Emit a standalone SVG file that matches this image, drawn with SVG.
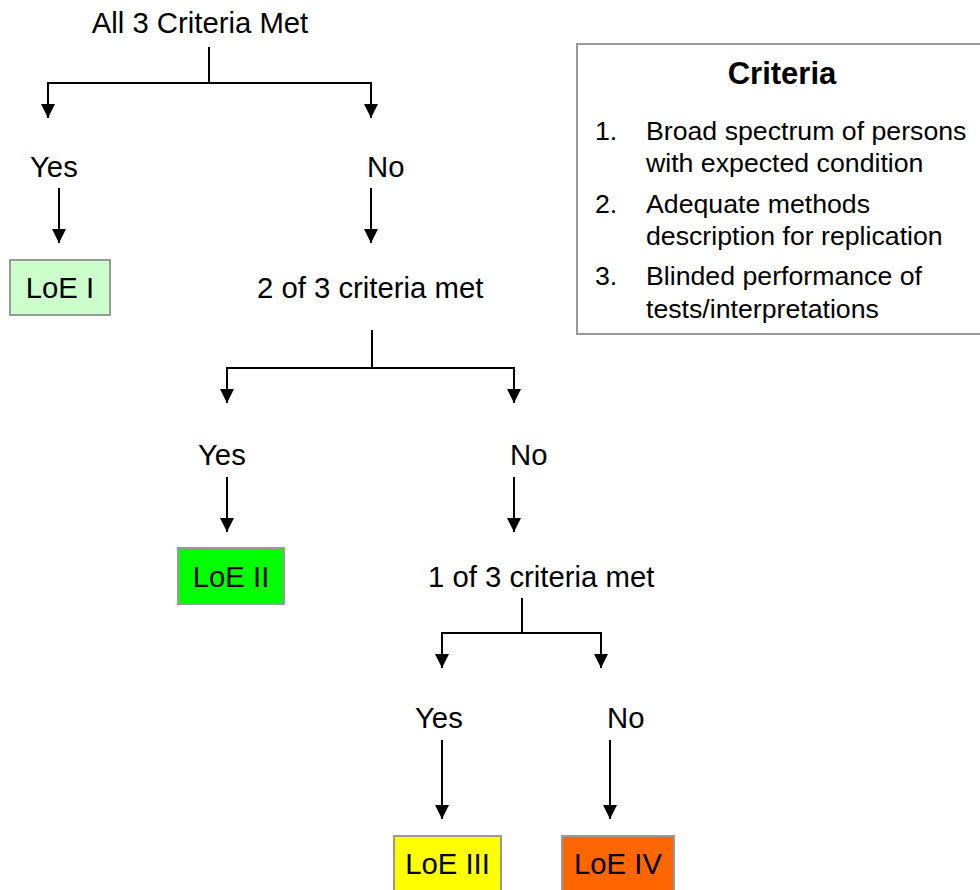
<svg xmlns="http://www.w3.org/2000/svg" width="980" height="890" viewBox="0 0 980 890">
  <style>
    text { font-family: "Liberation Sans", Arial, sans-serif; fill: #000; }
    .lbl { font-size: 29.3px; }
    .leg { font-size: 26.7px; }
    .legh { font-size: 31px; font-weight: bold; }
    .box { stroke: #999999; stroke-width: 2; }
    .wire { fill: none; stroke: #000; stroke-width: 2; }
  </style>
  <defs>
    <marker id="arr" viewBox="0 0 14 14" refX="14" refY="7" markerWidth="14" markerHeight="14" markerUnits="userSpaceOnUse" orient="auto">
      <path d="M0,0 L14,7 L0,14 Z" fill="#000"/>
    </marker>
  </defs>

  <!-- decision labels -->
  <g id="q1"><text class="lbl" x="200" y="33" text-anchor="middle">All 3 Criteria Met</text></g>
  <g id="yes1"><text class="lbl" x="30" y="177">Yes</text></g>
  <g id="no1"><text class="lbl" x="367" y="177">No</text></g>
  <g id="q2"><text class="lbl" x="257" y="298">2 of 3 criteria met</text></g>
  <g id="yes2"><text class="lbl" x="198" y="465">Yes</text></g>
  <g id="no2"><text class="lbl" x="510" y="465">No</text></g>
  <g id="q3"><text class="lbl" x="428" y="587">1 of 3 criteria met</text></g>
  <g id="yes3"><text class="lbl" x="415" y="728">Yes</text></g>
  <g id="no3"><text class="lbl" x="607" y="728">No</text></g>

  <!-- outcome boxes -->
  <g id="loe1">
    <rect class="box" x="10" y="260" width="100" height="55" fill="#ccffcc"/>
    <text class="lbl" x="60" y="298" text-anchor="middle">LoE I</text>
  </g>
  <g id="loe2">
    <rect class="box" x="178" y="548" width="106" height="56" fill="#00ff00"/>
    <text class="lbl" x="231" y="587" text-anchor="middle">LoE II</text>
  </g>
  <g id="loe3">
    <rect class="box" x="394" y="836" width="107" height="60" fill="#ffff00"/>
    <text class="lbl" x="447.5" y="874" text-anchor="middle">LoE III</text>
  </g>
  <g id="loe4">
    <rect class="box" x="562" y="836" width="112" height="60" fill="#ff6600"/>
    <text class="lbl" x="618" y="874" text-anchor="middle">LoE IV</text>
  </g>

  <!-- criteria legend -->
  <g id="criteria">
    <rect class="box" x="577" y="44" width="410" height="290" fill="#fff"/>
    <text class="legh" x="782" y="84" text-anchor="middle">Criteria</text>
    <text class="leg" x="595" y="140">1.</text>
    <text class="leg" x="646" y="140">Broad spectrum of persons</text>
    <text class="leg" x="646" y="172">with expected condition</text>
    <text class="leg" x="595" y="213">2.</text>
    <text class="leg" x="646" y="213">Adequate methods</text>
    <text class="leg" x="646" y="245">description for replication</text>
    <text class="leg" x="595" y="285">3.</text>
    <text class="leg" x="646" y="285">Blinded performance of</text>
    <text class="leg" x="646" y="318">tests/interpretations</text>
  </g>

  <!-- connectors -->
  <g id="connectors" class="wire">
    <path d="M209,47 V83"/>
    <path d="M209,83 H48 V118" marker-end="url(#arr)"/>
    <path d="M209,83 H371 V118" marker-end="url(#arr)"/>
    <path d="M59,188 V243" marker-end="url(#arr)"/>
    <path d="M371,188 V243" marker-end="url(#arr)"/>

    <path d="M372,330 V368"/>
    <path d="M372,368 H227 V403" marker-end="url(#arr)"/>
    <path d="M372,368 H514 V403" marker-end="url(#arr)"/>
    <path d="M227,477 V532" marker-end="url(#arr)"/>
    <path d="M514,477 V532" marker-end="url(#arr)"/>

    <path d="M522,598 V633"/>
    <path d="M522,633 H442 V668" marker-end="url(#arr)"/>
    <path d="M522,633 H601 V668" marker-end="url(#arr)"/>
    <path d="M442,740 V819" marker-end="url(#arr)"/>
    <path d="M610,740 V819" marker-end="url(#arr)"/>
  </g>
</svg>
